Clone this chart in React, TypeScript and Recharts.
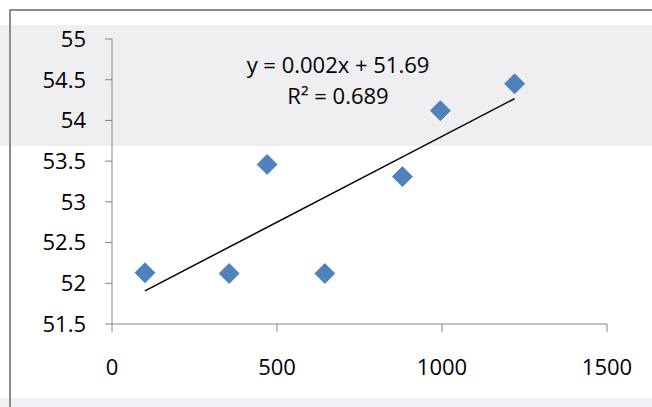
import React from "react";
import { ScatterChart, Scatter, XAxis, YAxis } from "recharts";

const xValues = [100, 355, 470, 645, 880, 995, 1220];
const yValues = [52.13, 52.12, 53.46, 52.12, 53.31, 54.12, 54.45];
const xTicks = [0, 500, 1000, 1500];
const yTicks = [51.5, 52, 52.5, 53, 53.5, 54, 54.5, 55];
const equationLines = ["y = 0.002x + 51.69", "R² = 0.689"];

const points = xValues.map((x, i) => ({ x, y: yValues[i] }));

// least squares fit, drawn between first and last x like Excel does
const n = xValues.length;
const mx = xValues.reduce((a, b) => a + b, 0) / n;
const my = yValues.reduce((a, b) => a + b, 0) / n;
let sxy = 0;
let sxx = 0;
xValues.forEach((x, i) => {
  sxy += (x - mx) * (yValues[i] - my);
  sxx += (x - mx) * (x - mx);
});
const slope = sxy / sxx;
const intercept = my - slope * mx;
const xMin = Math.min(...xValues);
const xMax = Math.max(...xValues);
const trend = [
  { x: xMin, y: intercept + slope * xMin },
  { x: xMax, y: intercept + slope * xMax },
];

const font = "'Open Sans', sans-serif";
const axisColor = "#868686";

const Diamond = (props: any) => {
  const { cx, cy } = props;
  const r = 10;
  return (
    <path
      d={`M${cx},${cy - r}L${cx + r},${cy}L${cx},${cy + r}L${cx - r},${cy}Z`}
      fill="#4f81bd"
      stroke="#4677b3"
      strokeWidth={0.8}
    />
  );
};

const Empty = () => <g />;

export default function App() {
  return (
    <div
      style={{
        position: "absolute",
        left: 0,
        top: 0,
        width: 652,
        height: 407,
        overflow: "hidden",
        background: "#fff",
        fontFamily: font,
      }}
    >
      {/* background band of the watermark */}
      <div style={{ position: "absolute", left: 0, top: 25, width: 652, height: 121, background: "#efeff1" }} />
      <div style={{ position: "absolute", left: 0, top: 398, width: 652, height: 9, background: "#eef0f4" }} />
      <div style={{ position: "absolute", left: 10, top: 9, width: 652, height: 2, background: "#8c8c8c" }} />
      <div style={{ position: "absolute", left: 9, top: 9, width: 2, height: 398, background: "#8c8c8c" }} />

      <div style={{ position: "absolute", left: 0, top: 0 }}>
        <ScatterChart width={652} height={407} margin={{ top: 39, right: 45, left: 0, bottom: 0 }}>
          <XAxis
            type="number"
            dataKey="x"
            domain={[0, 1500]}
            ticks={xTicks}
            height={83}
            tickSize={8}
            tickMargin={27}
            stroke={axisColor}
            tick={{ fill: "#000", fontSize: 22, fontFamily: font }}
          />
          <YAxis
            type="number"
            dataKey="y"
            domain={[51.5, 55]}
            ticks={yTicks}
            width={112}
            tickSize={7}
            tickMargin={19}
            stroke={axisColor}
            tick={{ fill: "#000", fontSize: 22, fontFamily: font }}
          />
          <Scatter
            data={trend}
            line={{ stroke: "#000", strokeWidth: 1.5 }}
            shape={Empty}
            isAnimationActive={false}
          />
          <Scatter data={points} shape={Diamond} isAnimationActive={false} />
        </ScatterChart>
      </div>

      <svg style={{ position: "absolute", left: 0, top: 0 }} width={652} height={407}>
        {equationLines.map((t, i) => (
          <text
            key={t}
            x={338}
            y={73 + i * 31}
            textAnchor="middle"
            fontSize={22}
            fontFamily={font}
            fill="#000"
          >
            {t}
          </text>
        ))}
      </svg>
    </div>
  );
}
